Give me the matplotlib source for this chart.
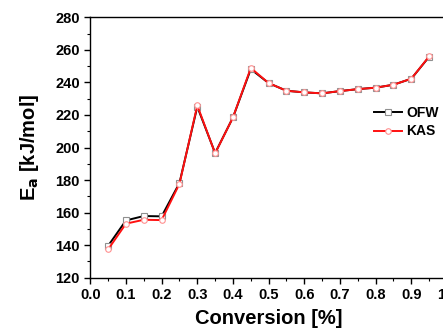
import matplotlib.pyplot as plt
from matplotlib.ticker import MultipleLocator, FormatStrFormatter

conversion = [0.05, 0.10, 0.15, 0.20, 0.25, 0.30, 0.35, 0.40, 0.45, 0.50,
              0.55, 0.60, 0.65, 0.70, 0.75, 0.80, 0.85, 0.90, 0.95]
ea_ofw = [139.6, 155.2, 157.9, 157.7, 178.2, 225.1, 196.6, 218.5, 248.2, 239.6,
          234.9, 233.9, 233.3, 234.7, 235.9, 236.8, 238.6, 242.3, 255.8]
ea_kas = [137.4, 153.2, 155.6, 155.4, 177.7, 225.9, 196.4, 218.5, 248.9, 239.6,
          234.9, 233.9, 233.3, 234.7, 235.9, 236.8, 238.6, 242.3, 256.0]
series_labels = ["OFW", "KAS"]

plt.rcParams["font.family"] = ["Liberation Sans", "DejaVu Sans"]
plt.rcParams["font.weight"] = "bold"

fig = plt.figure(figsize=(4.43, 3.28), dpi=100)
ax = fig.add_axes([0.2038, 0.1534, 1.009 - 0.2038, 0.947 - 0.1534])

ax.plot(conversion, ea_ofw, "-s", color="black", linewidth=1.4,
        markersize=4, markerfacecolor="white", markeredgecolor="#909090",
        markeredgewidth=0.8, label=series_labels[0])
ax.plot(conversion, ea_kas, "-o", color="#ff1010", linewidth=1.4,
        markersize=4, markerfacecolor="white", markeredgecolor="#ff9090",
        markeredgewidth=0.8, label=series_labels[1])

ax.set_xlim(0.0, 1.0)
ax.set_ylim(120, 280)
ax.xaxis.set_major_locator(MultipleLocator(0.1))
ax.xaxis.set_minor_locator(MultipleLocator(0.05))
ax.xaxis.set_major_formatter(FormatStrFormatter("%.1f"))
ax.yaxis.set_major_locator(MultipleLocator(20))
ax.yaxis.set_minor_locator(MultipleLocator(10))
ax.tick_params(which="major", direction="out", length=4, width=1, labelsize=10.5)
ax.tick_params(which="minor", direction="out", length=2.5, width=0.8)
for sp in ax.spines.values():
    sp.set_linewidth(1.0)

ax.set_xlabel("Conversion [%]", fontsize=14.5, fontweight="bold", labelpad=5)
ax.set_ylabel(r"E$_\mathbf{a}$ [kJ/mol]", fontsize=14.5, fontweight="bold", labelpad=10)

ax.legend(loc="upper left", bbox_to_anchor=(0.78, 0.68), frameon=False,
          fontsize=10, handlelength=2.0, handletextpad=0.3, labelspacing=0.3,
          borderaxespad=0)

fig.savefig("out.png", dpi=100)
